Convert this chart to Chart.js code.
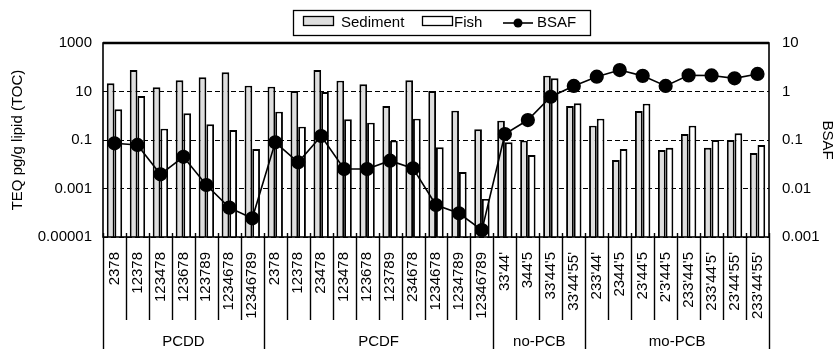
<!DOCTYPE html>
<html>
<head>
<meta charset="utf-8">
<script src="https://cdn.jsdelivr.net/npm/chart.js@4"></script>
<style>
  html, body { margin: 0; padding: 0; background: #ffffff; }
  #wrap { width: 836px; height: 349px; }
</style>
</head>
<body>
<div id="wrap"><canvas id="c" width="836" height="349"></canvas></div>
<script>
const categories = ["2378","12378","123478","123678","123789","1234678","12346789",
  "2378","12378","23478","123478","123678","123789","234678","1234678","1234789","12346789",
  "33'44'","344'5","33'44'5","33'44'55'",
  "233'44'","2344'5","23'44'5","2'3'44'5","233'44'5","233'44'5'","23'44'55'","233'44'55'"];
const groupNames = ["PCDD","PCDF","no-PCB","mo-PCB"];
const groupStarts = [0, 7, 17, 21, 29];
const sediment = [21.7, 77, 14.9, 28.9, 38.4, 61.7, 17.4,
  15.8, 10.5, 77, 28, 19.7, 2.52, 28.9, 10.5, 1.62, 0.275,
  0.626, 0.094, 45, 2.52,
  0.39, 0.015, 1.57, 0.0387, 0.177, 0.048, 0.1, 0.029];
const fish = [1.84, 6.5, 0.293, 1.26, 0.443, 0.258, 0.0426,
  1.47, 0.355, 9.5, 0.71, 0.519, 0.094, 0.758, 0.05, 0.0048, 0.00037,
  0.080, 0.024, 34.9, 3.25,
  0.758, 0.0426, 3.14, 0.048, 0.39, 0.1, 0.19, 0.062];
const bsaf = [0.0855, 0.079, 0.0196, 0.045, 0.0118, 0.00403, 0.00243,
  0.0895, 0.0347, 0.121, 0.0252, 0.0252, 0.0375, 0.026, 0.00457, 0.00308, 0.00139,
  0.133, 0.258, 0.78, 1.30,
  2.02, 2.77, 2.1, 1.30, 2.15, 2.14, 1.87, 2.3];
const leftTickValues = [1e-5, 1e-3, 0.1, 10, 1000];
const leftTickLabels = ["0.00001", "0.001", "0.1", "10", "1000"];
const rightTickValues = [0.001, 0.01, 0.1, 1, 10];
const rightTickLabels = ["0.001", "0.01", "0.1", "1", "10"];
const leftTitle = "TEQ pg/g lipid (TOC)";
const rightTitle = "BSAF";
const legendLabels = ["Sediment", "Fish", "BSAF"];

const FONT = "'Liberation Sans', Arial, Helvetica, sans-serif";
const SED_FILL = "#dedede";

const decorPlugin = {
  id: 'decor',
  afterDraw(chart) {
    const ctx = chart.ctx;
    const ca = chart.chartArea;
    const xs = chart.scales.x;
    ctx.save();
    // frame
    ctx.strokeStyle = '#000';
    ctx.lineWidth = 1.6;
    ctx.setLineDash([]);
    ctx.strokeRect(ca.left, ca.top, ca.right - ca.left, ca.bottom - ca.top);
    ctx.lineWidth = 2.4;
    ctx.beginPath(); ctx.moveTo(ca.left, ca.top); ctx.lineTo(ca.right, ca.top); ctx.stroke();
    // category separators
    ctx.lineWidth = 1.4;
    for (let i = 0; i <= categories.length; i++) {
      const x = Math.round(xs.getPixelForValue(i - 0.5)) + 0.5;
      const isGroup = groupStarts.indexOf(i) >= 0;
      ctx.beginPath();
      ctx.moveTo(x, ca.bottom - 4);
      ctx.lineTo(x, isGroup ? chart.height : 320);
      ctx.stroke();
    }
    // group labels
    ctx.fillStyle = '#000';
    ctx.font = '15px ' + FONT;
    ctx.textAlign = 'center';
    ctx.textBaseline = 'middle';
    for (let g = 0; g < groupNames.length; g++) {
      const x0 = xs.getPixelForValue(groupStarts[g] - 0.5);
      const x1 = xs.getPixelForValue(groupStarts[g + 1] - 0.5);
      ctx.fillText(groupNames[g], (x0 + x1) / 2, 342);
    }
    // legend
    const lx = 293, ly = 10, lw = 297, lh = 25;
    ctx.lineWidth = 1.3;
    ctx.strokeRect(lx + 0.5, ly + 0.5, lw, lh);
    const cy = ly + lh / 2 + 0.5;
    ctx.textAlign = 'left';
    ctx.lineWidth = 1.3;
    ctx.fillStyle = SED_FILL;
    ctx.fillRect(303, 16, 30, 9);
    ctx.strokeRect(303.5, 16.5, 30, 9);
    ctx.fillStyle = '#000';
    ctx.fillText(legendLabels[0], 341, cy);
    ctx.fillStyle = '#fff';
    ctx.fillRect(422, 16, 30, 9);
    ctx.strokeRect(422.5, 16.5, 30, 9);
    ctx.fillStyle = '#000';
    ctx.fillText(legendLabels[1], 454, cy);
    ctx.lineWidth = 1.6;
    ctx.beginPath(); ctx.moveTo(503, cy); ctx.lineTo(533, cy); ctx.stroke();
    ctx.beginPath(); ctx.arc(518, cy, 4.5, 0, Math.PI * 2); ctx.fill();
    ctx.fillText(legendLabels[2], 537, cy);
    ctx.restore();
  }
};

Chart.defaults.font.family = FONT;
Chart.defaults.font.size = 15;
Chart.defaults.color = '#000';

new Chart(document.getElementById('c'), {
  data: {
    labels: categories,
    datasets: [
      {
        type: 'line', label: legendLabels[2], data: bsaf, yAxisID: 'y2', order: 0,
        borderColor: '#000', borderWidth: 1.6, backgroundColor: '#000',
        pointRadius: 6.3, pointBackgroundColor: '#000', pointBorderColor: '#000',
        tension: 0
      },
      {
        type: 'bar', label: legendLabels[0], data: sediment, yAxisID: 'y', order: 1,
        backgroundColor: SED_FILL, borderColor: '#000', borderWidth: 1.9,
        categoryPercentage: 0.67, barPercentage: 1.0
      },
      {
        type: 'bar', label: legendLabels[1], data: fish, yAxisID: 'y', order: 1,
        backgroundColor: '#ffffff', borderColor: '#000', borderWidth: 1.9,
        categoryPercentage: 0.67, barPercentage: 1.0
      }
    ]
  },
  options: {
    responsive: false,
    animation: false,
    devicePixelRatio: 1,
    layout: { padding: { top: 43, left: 0, right: 0, bottom: 0 } },
    plugins: { legend: { display: false }, tooltip: { enabled: false } },
    scales: {
      x: {
        type: 'category',
        offset: true,
        grid: { display: false, drawTicks: false },
        border: { display: false },
        ticks: { autoSkip: false, minRotation: 90, maxRotation: 90, padding: 15, font: { size: 15 } },
        afterFit(scale) { scale.height = 112; }
      },
      y: {
        type: 'logarithmic', position: 'left',
        min: 1e-5, max: 1000,
        grid: { display: true, color: '#000', lineWidth: 1, drawTicks: false },
        border: { display: false, dash: [5, 3] },
        ticks: {
          padding: 11,
          font: { size: 15 },
          callback(value) {
            const i = leftTickValues.findIndex(v => Math.abs(Math.log10(v) - Math.log10(value)) < 1e-6);
            return i >= 0 ? leftTickLabels[i] : '';
          }
        },
        afterBuildTicks(scale) { scale.ticks = leftTickValues.map(v => ({ value: v })); },
        title: { display: true, text: leftTitle, font: { size: 15 }, padding: { top: 9, bottom: 0 } },
        afterFit(scale) { scale.width = 103; }
      },
      y2: {
        type: 'logarithmic', position: 'right',
        min: 0.001, max: 10,
        grid: { display: false, drawTicks: false },
        border: { display: false },
        ticks: {
          padding: 13,
          font: { size: 15 },
          callback(value) {
            const i = rightTickValues.findIndex(v => Math.abs(Math.log10(v) - Math.log10(value)) < 1e-6);
            return i >= 0 ? rightTickLabels[i] : '';
          }
        },
        afterBuildTicks(scale) { scale.ticks = rightTickValues.map(v => ({ value: v })); },
        title: { display: true, text: rightTitle, font: { size: 15 }, padding: { top: 0, bottom: 0 } },
        afterFit(scale) { scale.width = 67; }
      }
    }
  },
  plugins: [decorPlugin]
});
</script>
</body>
</html>
